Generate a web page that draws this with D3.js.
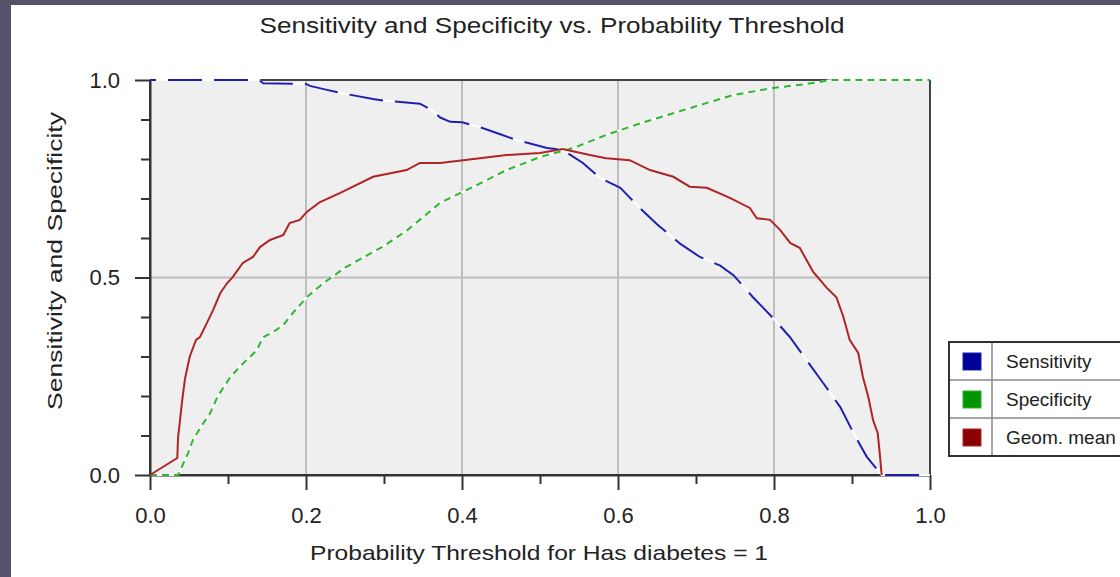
<!DOCTYPE html>
<html>
<head>
<meta charset="utf-8">
<script src="https://d3js.org/d3.v7.min.js"></script>
<style>
  body { margin: 0; background: #fff; }
  text { font-family: "Liberation Sans", Arial, sans-serif; fill: #222; }
</style>
</head>
<body>
<div id="chart"></div>
<script>
// threshold / value pairs
var sensT = [0, 0.14, 0.145, 0.2, 0.205, 0.227, 0.25, 0.286, 0.3, 0.346, 0.36, 0.372, 0.385, 0.4, 0.427, 0.45, 0.47, 0.509, 0.529, 0.555, 0.577, 0.603, 0.628, 0.65, 0.68, 0.705, 0.731, 0.748, 0.773, 0.799, 0.82, 0.842, 0.863, 0.885, 0.902, 0.919, 0.938, 1.0];
var sensV = [1.0, 1.0, 0.992, 0.99, 0.985, 0.975, 0.965, 0.952, 0.948, 0.94, 0.925, 0.905, 0.894, 0.893, 0.878, 0.862, 0.848, 0.828, 0.823, 0.79, 0.752, 0.727, 0.676, 0.635, 0.585, 0.552, 0.53, 0.506, 0.45, 0.397, 0.35, 0.29, 0.233, 0.172, 0.106, 0.046, 0.0, 0.0];

var specT = [0, 0.036, 0.049, 0.055, 0.068, 0.077, 0.087, 0.103, 0.115, 0.137, 0.145, 0.158, 0.171, 0.183, 0.201, 0.222, 0.25, 0.3, 0.33, 0.372, 0.4, 0.415, 0.457, 0.5, 0.543, 0.585, 0.628, 0.671, 0.714, 0.748, 0.799, 0.842, 0.874, 1.0];
var specV = [0, 0, 0.056, 0.089, 0.13, 0.156, 0.2, 0.248, 0.274, 0.316, 0.349, 0.362, 0.38, 0.41, 0.45, 0.485, 0.525, 0.58, 0.62, 0.689, 0.716, 0.73, 0.772, 0.805, 0.828, 0.861, 0.89, 0.916, 0.942, 0.962, 0.98, 0.99, 1.0, 1.0];

var gmT = [0, 0.035, 0.036, 0.038, 0.041, 0.045, 0.051, 0.059, 0.064, 0.073, 0.081, 0.09, 0.099, 0.106, 0.119, 0.132, 0.141, 0.154, 0.171, 0.179, 0.192, 0.201, 0.218, 0.244, 0.286, 0.329, 0.346, 0.372, 0.415, 0.457, 0.5, 0.529, 0.564, 0.585, 0.615, 0.641, 0.671, 0.692, 0.714, 0.744, 0.769, 0.778, 0.795, 0.808, 0.821, 0.833, 0.85, 0.868, 0.88, 0.889, 0.897, 0.908, 0.914, 0.921, 0.927, 0.933, 0.936, 0.938];
var gmV = [0, 0.043, 0.096, 0.13, 0.185, 0.245, 0.3, 0.342, 0.349, 0.385, 0.418, 0.46, 0.486, 0.501, 0.537, 0.552, 0.577, 0.595, 0.608, 0.638, 0.646, 0.666, 0.691, 0.714, 0.755, 0.772, 0.79, 0.79, 0.8, 0.81, 0.815, 0.825, 0.81, 0.802, 0.797, 0.772, 0.755, 0.73, 0.727, 0.701, 0.676, 0.65, 0.646, 0.62, 0.587, 0.575, 0.515, 0.473, 0.45, 0.4, 0.342, 0.309, 0.248, 0.197, 0.139, 0.106, 0.046, 0.0];

var seriesNames = ["Sensitivity", "Specificity", "Geom. mean"];
var xTicks = [0, 0.2, 0.4, 0.6, 0.8, 1.0];
var xMinor = [0.1, 0.3, 0.5, 0.7, 0.9];
var yTicks = [0, 0.5, 1.0];
var yMinor = [0.1, 0.2, 0.3, 0.4, 0.6, 0.7, 0.8, 0.9];

var W = 1120, H = 577;
var margin = {top: 80, left: 150},
    width = 780, height = 395;

var lineColors = ["#1f1fae", "#2fb52f", "#b02424"];
var swatchColors = ["#00009a", "#009400", "#8a0000"];

var svg = d3.select("#chart").append("svg")
    .attr("width", W).attr("height", H);

// dark window frame
svg.append("rect").attr("x", 0).attr("y", 0).attr("width", W).attr("height", 5).attr("fill", "#55536a");
svg.append("rect").attr("x", 0).attr("y", 0).attr("width", 11).attr("height", H).attr("fill", "#55536a");

var g = svg.append("g").attr("transform", "translate(" + margin.left + "," + margin.top + ")");

var x = d3.scaleLinear().domain([0, 1]).range([0, width]);
var y = d3.scaleLinear().domain([0, 1]).range([height, 0]);

g.append("rect").attr("width", width).attr("height", height).attr("fill", "#efefef");

// grid
g.selectAll(".vgrid").data(xTicks.slice(1, -1)).enter().append("line")
    .attr("x1", function(d) { return x(d); }).attr("x2", function(d) { return x(d); })
    .attr("y1", 0).attr("y2", height)
    .attr("stroke", "#bdbdbd").attr("stroke-width", 2);
g.append("line")
    .attr("x1", 0).attr("x2", width)
    .attr("y1", y(0.5)).attr("y2", y(0.5))
    .attr("stroke", "#bdbdbd").attr("stroke-width", 2);

// frame top / right
g.append("line").attr("x1", 0).attr("x2", width).attr("y1", 0).attr("y2", 0)
    .attr("stroke", "#444").attr("stroke-width", 2);
g.append("line").attr("x1", width).attr("x2", width).attr("y1", 0).attr("y2", height)
    .attr("stroke", "#444").attr("stroke-width", 2);

function styleAxis(sel) {
    sel.selectAll("path").attr("stroke", "#333").attr("stroke-width", 2);
    sel.selectAll("line").attr("stroke", "#333").attr("stroke-width", 2);
    sel.selectAll("text").attr("fill", "#2a2a2a").style("font-size", "22px")
        .style("font-family", "'Liberation Sans', Arial, sans-serif");
}

// minor ticks
g.append("g").attr("transform", "translate(0," + height + ")")
    .call(d3.axisBottom(x).tickValues(xMinor).tickSize(9).tickSizeOuter(0).tickFormat(""))
    .call(styleAxis);
g.append("g")
    .call(d3.axisLeft(y).tickValues(yMinor).tickSize(9).tickSizeOuter(0).tickFormat(""))
    .call(styleAxis);

// major ticks
g.append("g").attr("transform", "translate(0," + height + ")")
    .call(d3.axisBottom(x).tickValues(xTicks).tickSize(15).tickSizeOuter(0).tickPadding(17).tickFormat(d3.format(".1f")))
    .call(styleAxis)
    .call(function(a) { a.select(".domain").remove(); });
g.append("g")
    .call(d3.axisLeft(y).tickValues(yTicks).tickSize(15).tickSizeOuter(0).tickPadding(15).tickFormat(d3.format(".1f")))
    .call(styleAxis)
    .call(function(a) { a.select(".domain").remove(); });

// axis lines
g.append("line").attr("x1", 0).attr("x2", 0).attr("y1", 0).attr("y2", height)
    .attr("stroke", "#333").attr("stroke-width", 2);
g.append("line").attr("x1", 0).attr("x2", width).attr("y1", height).attr("y2", height)
    .attr("stroke", "#333").attr("stroke-width", 2);

// series
var line = d3.line()
    .x(function(d) { return x(d[0]); })
    .y(function(d) { return y(d[1]); });

var series = [
    {ts: sensT, vs: sensV, dash: "34,12", off: 28},
    {ts: specT, vs: specV, dash: "7,5", off: 0},
    {ts: gmT, vs: gmV, dash: null, off: 0}
];

series.forEach(function(s, i) {
    var pts = d3.zip(s.ts, s.vs);
    if (s.dash) {
        // dashed pens leave white gaps
        g.append("path").datum(pts).attr("d", line)
            .attr("fill", "none").attr("stroke", "#fff").attr("stroke-width", 2);
    }
    g.append("path").datum(pts).attr("d", line)
        .attr("fill", "none")
        .attr("stroke", lineColors[i])
        .attr("stroke-width", 2)
        .attr("stroke-dasharray", s.dash)
        .attr("stroke-dashoffset", s.off);
});

// titles
svg.append("text").attr("x", 552).attr("y", 33).attr("text-anchor", "middle")
    .attr("textLength", 585).attr("lengthAdjust", "spacingAndGlyphs")
    .style("font-size", "22px").text("Sensitivity and Specificity vs. Probability Threshold");
svg.append("text").attr("x", 539).attr("y", 560).attr("text-anchor", "middle")
    .attr("textLength", 458).attr("lengthAdjust", "spacingAndGlyphs")
    .style("font-size", "21px").text("Probability Threshold for Has diabetes = 1");
svg.append("text").attr("transform", "translate(62,261) rotate(-90)").attr("text-anchor", "middle")
    .attr("textLength", 298).attr("lengthAdjust", "spacingAndGlyphs")
    .style("font-size", "21px").text("Sensitivity and Specificity");

// legend
var lg = svg.append("g").attr("transform", "translate(949,342)");
var rowH = 38;
lg.append("rect").attr("width", 190).attr("height", rowH * 3).attr("fill", "#fff");
lg.selectAll(".sep").data([1, 2]).enter().append("line")
    .attr("x1", 0).attr("x2", 190)
    .attr("y1", function(d) { return d * rowH; }).attr("y2", function(d) { return d * rowH; })
    .attr("stroke", "#888").attr("stroke-width", 1.5);
lg.append("line").attr("x1", 43).attr("x2", 43).attr("y1", 0).attr("y2", rowH * 3)
    .attr("stroke", "#888").attr("stroke-width", 1.5);
lg.append("rect").attr("width", 190).attr("height", rowH * 3)
    .attr("fill", "none").attr("stroke", "#333").attr("stroke-width", 2);
var rows = lg.selectAll(".row").data(seriesNames).enter().append("g")
    .attr("transform", function(d, i) { return "translate(0," + (i * rowH) + ")"; });
rows.append("rect").attr("x", 14).attr("y", 11).attr("width", 18).attr("height", 17)
    .attr("fill", function(d, i) { return swatchColors[i]; })
    .attr("stroke", function(d, i) { return lineColors[i]; }).attr("stroke-width", 1);
rows.append("text").attr("x", 57).attr("y", 26)
    .style("font-size", "19px").text(function(d) { return d; });
</script>
</body>
</html>
